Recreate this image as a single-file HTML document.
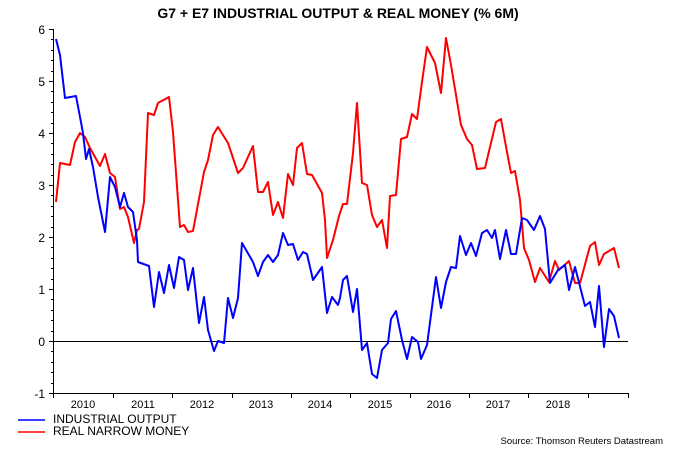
<!DOCTYPE html>
<html><head><meta charset="utf-8"><style>
html,body{margin:0;padding:0;background:#fff;width:675px;height:450px;overflow:hidden}
svg{display:block}
text{font-family:"Liberation Sans",Arial,sans-serif}
</style></head><body>
<svg width="675" height="450" viewBox="0 0 675 450">
<text x="338" y="18" text-anchor="middle" font-size="14" font-weight="bold" fill="#000">G7 + E7 INDUSTRIAL OUTPUT &amp; REAL MONEY (% 6M)</text>
<g stroke="#000" stroke-width="1" fill="none">
<line x1="53.5" y1="29" x2="53.5" y2="394"/>
<line x1="53" y1="393.5" x2="628" y2="393.5"/>
<line x1="53" y1="341.5" x2="628" y2="341.5"/>
<line x1="49" y1="29.5" x2="53" y2="29.5"/><line x1="49" y1="81.5" x2="53" y2="81.5"/><line x1="49" y1="133.5" x2="53" y2="133.5"/><line x1="49" y1="185.5" x2="53" y2="185.5"/><line x1="49" y1="237.5" x2="53" y2="237.5"/><line x1="49" y1="289.5" x2="53" y2="289.5"/><line x1="49" y1="341.5" x2="53" y2="341.5"/><line x1="49" y1="393.5" x2="53" y2="393.5"/>
<g stroke-width="1">
<line x1="51" y1="39.5" x2="53" y2="39.5"/><line x1="51" y1="50.5" x2="53" y2="50.5"/><line x1="51" y1="60.5" x2="53" y2="60.5"/><line x1="51" y1="71.5" x2="53" y2="71.5"/>
<line x1="51" y1="91.5" x2="53" y2="91.5"/><line x1="51" y1="102.5" x2="53" y2="102.5"/><line x1="51" y1="112.5" x2="53" y2="112.5"/><line x1="51" y1="123.5" x2="53" y2="123.5"/>
<line x1="51" y1="143.5" x2="53" y2="143.5"/><line x1="51" y1="154.5" x2="53" y2="154.5"/><line x1="51" y1="164.5" x2="53" y2="164.5"/><line x1="51" y1="175.5" x2="53" y2="175.5"/>
<line x1="51" y1="195.5" x2="53" y2="195.5"/><line x1="51" y1="206.5" x2="53" y2="206.5"/><line x1="51" y1="216.5" x2="53" y2="216.5"/><line x1="51" y1="227.5" x2="53" y2="227.5"/>
<line x1="51" y1="247.5" x2="53" y2="247.5"/><line x1="51" y1="258.5" x2="53" y2="258.5"/><line x1="51" y1="268.5" x2="53" y2="268.5"/><line x1="51" y1="279.5" x2="53" y2="279.5"/>
<line x1="51" y1="299.5" x2="53" y2="299.5"/><line x1="51" y1="310.5" x2="53" y2="310.5"/><line x1="51" y1="320.5" x2="53" y2="320.5"/><line x1="51" y1="331.5" x2="53" y2="331.5"/>
<line x1="51" y1="351.5" x2="53" y2="351.5"/><line x1="51" y1="362.5" x2="53" y2="362.5"/><line x1="51" y1="372.5" x2="53" y2="372.5"/><line x1="51" y1="383.5" x2="53" y2="383.5"/>
</g>
<line x1="53.5" y1="393" x2="53.5" y2="398"/><line x1="113.5" y1="393" x2="113.5" y2="398"/><line x1="172.5" y1="393" x2="172.5" y2="398"/><line x1="232.5" y1="393" x2="232.5" y2="398"/><line x1="291.5" y1="393" x2="291.5" y2="398"/><line x1="350.5" y1="393" x2="350.5" y2="398"/><line x1="410.5" y1="393" x2="410.5" y2="398"/><line x1="469.5" y1="393" x2="469.5" y2="398"/><line x1="528.5" y1="393" x2="528.5" y2="398"/><line x1="588.5" y1="393" x2="588.5" y2="398"/><line x1="628.5" y1="393" x2="628.5" y2="398"/>
</g>
<g font-size="12" fill="#000" text-anchor="end">
<text x="45" y="34">6</text><text x="45" y="86">5</text><text x="45" y="138">4</text><text x="45" y="190">3</text><text x="45" y="242">2</text><text x="45" y="294">1</text><text x="45" y="346">0</text><text x="45" y="398">-1</text>
</g>
<g font-size="11" fill="#000" text-anchor="middle">
<text x="83" y="408">2010</text><text x="143" y="408">2011</text><text x="202" y="408">2012</text><text x="261" y="408">2013</text><text x="320" y="408">2014</text><text x="380" y="408">2015</text><text x="439" y="408">2016</text><text x="498" y="408">2017</text><text x="558" y="408">2018</text>
</g>
<polyline fill="none" stroke="#ff0000" stroke-width="2" stroke-linejoin="round" points="56,202 60,163 70,165 75,142 80,133 85,137 90,148 100,166 105,154 110,173 115,177 120,209 124,207 128,217 134,243 137,230 139,229 144,202 148,113 154,115 158,103 169,97 173,132 180,227 184,225 188,232 193,231 204,172 208,160 213,135 218,127 228,143 233,158 238,173 243,168 248,157 253,146 258,192 263,192 268,182 273,215 278,202 283,218 288,174 293,185 297,148 302,143 307,174 312,175 322,193 325,220 327,258 333,240 339,216 343,204 347,204 353,153 357,103 362,183 367,185 372,215 377,227 382,220 387,248 390,196 396,195 401,139 407,137 412,114 417,119 422,82 427,47 435,63 441,93 446,38 451,65 461,125 467,139 472,145 477,169 485,168 496,122 501,119 507,152 511,173 515,171 520,200 524,248 529,260 535,282 540,268 549,282 555,261 559,270 569,261 575,283 580,283 590,246 595,242 599,265 604,254 614,248 619,268"/>
<polyline fill="none" stroke="#0000ff" stroke-width="2" stroke-linejoin="round" points="56,39 60,55 65,98 76,96 80,117 83,133 86,159 89,149 93,167 98,197 105,232 110,177 115,187 120,207 124,193 128,207 133,212 137,240 138,262 149,266 154,307 159,272 164,293 169,265 174,288 179,257 184,260 188,290 193,268 199,323 204,297 208,330 214,351 218,341 224,343 228,298 233,318 238,298 242,243 253,262 258,276 263,262 268,255 273,262 278,255 283,233 288,245 293,244 298,260 303,252 307,254 313,280 322,267 327,313 332,297 338,305 340,298 343,280 347,276 353,312 357,289 362,350 367,343 372,374 377,378 382,350 388,343 391,319 396,311 402,340 407,359 412,337 418,342 421,359 427,345 436,277 441,308 446,282 451,267 456,268 460,236 466,255 471,243 476,256 482,233 487,230 492,238 495,230 500,259 506,230 511,254 516,254 522,218 527,220 534,230 540,216 545,229 550,283 558,270 565,265 569,290 575,267 585,306 590,302 595,327 599,286 604,347 609,309 614,316 619,338"/>
<line x1="18" y1="420" x2="45" y2="420" stroke="#0000ff" stroke-width="1.5"/>
<line x1="18" y1="432" x2="45" y2="432" stroke="#ff0000" stroke-width="1.5"/>
<g font-size="12" fill="#000">
<text x="53" y="423">INDUSTRIAL OUTPUT</text>
<text x="53" y="435">REAL NARROW MONEY</text>
</g>
<text x="663" y="444" text-anchor="end" font-size="9.5" fill="#000">Source: Thomson Reuters Datastream</text>
</svg>
</body></html>
